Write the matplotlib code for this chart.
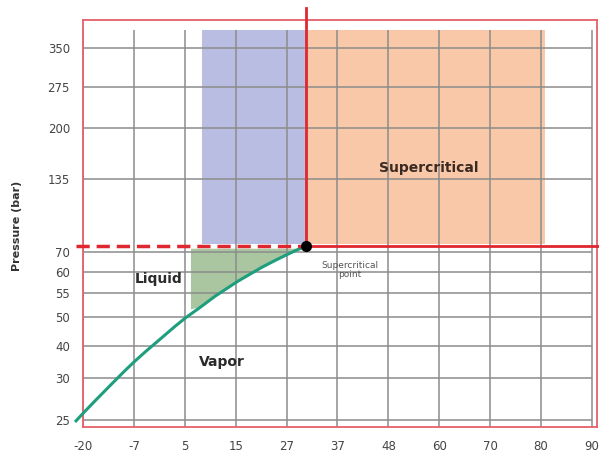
import numpy as np
import matplotlib
matplotlib.use("Agg")
import matplotlib.pyplot as plt

# Etiquetas de los ejes
x_labels = [-20, -7, 5, 15, 27, 37, 48, 60, 70, 80, 90]
y_labels = [25, 30, 40, 50, 55, 60, 70, 135, 200, 275, 350]

# Curva de saturacion (T en C, P en bar)
curve_T = [-21.8, -20, -16.9, -13.1, -9.3, -7.0, -4.4, -0.8, 2.7, 5.2,
           8.0, 10.9, 12.9, 15.5, 18.4, 21.2, 24.3, 26.9, 28.8, 30.8]
curve_P = [24.9, 25.8, 27.3, 29.1, 32.3, 35.0, 38.1, 42.4, 46.8, 49.8,
           52.0, 54.3, 55.8, 57.8, 59.5, 62.4, 65.8, 68.5, 71.4, 75.3]

# Punto critico
crit_T = 30.8
crit_P = 75.3

# Regiones sombreadas
blue_T = [8.4, 30.8]
orange_T = [30.8, 80.8]
box_P = [77.5, 385]
green_T = [6.2, 29.4, 28.8, 26.9, 24.3, 21.2, 18.4, 15.5, 12.9, 10.9, 8.0, 6.2]
green_P = [72.9, 72.9, 71.4, 68.5, 65.8, 62.4, 59.5, 57.8, 55.8, 54.3, 52.0, 51.6]

# Escalas no uniformes de los ejes (como en la figura original)
xT = [-33] + x_labels + [100]
xp = np.arange(-1, len(x_labels) + 1)
yP = [15] + y_labels + [500]
yp = [-77, 7, 49, 81, 110, 134, 155, 175, 248, 299, 340, 379, 457]

fx = (lambda t: np.interp(t, xT, xp), lambda p: np.interp(p, xp, xT))
fy = (lambda t: np.interp(t, yP, yp), lambda p: np.interp(p, yp, yP))

fig = plt.figure(figsize=(5.99, 4.55), dpi=100)
ax = fig.add_axes([82.5 / 599, 28 / 455, (597 - 82.5) / 599, 407 / 455])
ax.set_xscale("function", functions=fx)
ax.set_yscale("function", functions=fy)
ax.set_xlim(-20.15, 91.0)
ymin, ymax = fy[1](0), fy[1](407)
ax.set_ylim(ymin, ymax)

grid_c = "#8c8c8c"
ax.vlines(x_labels, ymin, 385, color=grid_c, lw=1.1, zorder=2)
ax.hlines(y_labels, -20, 90, color=grid_c, lw=1.1, zorder=2)

# Regiones
ax.fill_between(blue_T, box_P[0], box_P[1], color="#b9bde1", lw=0, zorder=1)
ax.fill_between(orange_T, box_P[0], box_P[1], color="#f9c8a8", lw=0, zorder=1)
ax.fill(green_T, green_P, color="#a9c6a0", lw=0, zorder=1)

# Curva y lineas criticas
ax.plot(curve_T, curve_P, color="#1e9e7e", lw=2.2, zorder=4, clip_on=False)
ax.plot([-21.8, crit_T], [crit_P, crit_P], color="#e0262f", lw=2.5,
        dashes=(3.8, 2), zorder=4, clip_on=False)
ax.plot([crit_T, 91.4], [crit_P, crit_P], color="#e0262f", lw=2.0, zorder=4, clip_on=False)
ax.plot([crit_T, crit_T], [crit_P, 427], color="#e0262f", lw=2.0, zorder=4, clip_on=False)
ax.plot([crit_T], [crit_P], "o", color="black", ms=7, zorder=5, clip_on=False)

# Textos
ax.text(57.6, 149, "Supercritical", fontsize=10, fontweight="bold",
        color="#3a2a22", ha="center", va="center", zorder=6)
ax.text(-1.2, 58.3, "Liquid", fontsize=10, fontweight="bold",
        color="#2a2a2a", ha="center", va="center", zorder=6)
ax.text(12.3, 35.1, "Vapor", fontsize=10, fontweight="bold",
        color="#2a2a2a", ha="center", va="center", zorder=6)
ax.text(39.7, 61, "Supercritical\npoint", fontsize=6.5, color="#555555",
        ha="center", va="center", linespacing=0.9, zorder=6)

ax.set_xticks(x_labels)
ax.set_xticklabels([str(v) for v in x_labels])
ax.set_yticks(y_labels)
ax.set_yticklabels([str(v) for v in y_labels])
ax.minorticks_off()
ax.tick_params(length=0, labelsize=8.5, labelcolor="#444444")
ax.tick_params(axis="x", pad=9)
ax.tick_params(axis="y", pad=9)

for s in ax.spines.values():
    s.set_color("#e4606a")
    s.set_linewidth(1.3)

fig.text(17 / 599, 1 - 226 / 455, "Pressure (bar)", rotation=90, fontsize=8,
         fontweight="bold", color="#333333", ha="center", va="center")

fig.savefig("out.png", dpi=100)
